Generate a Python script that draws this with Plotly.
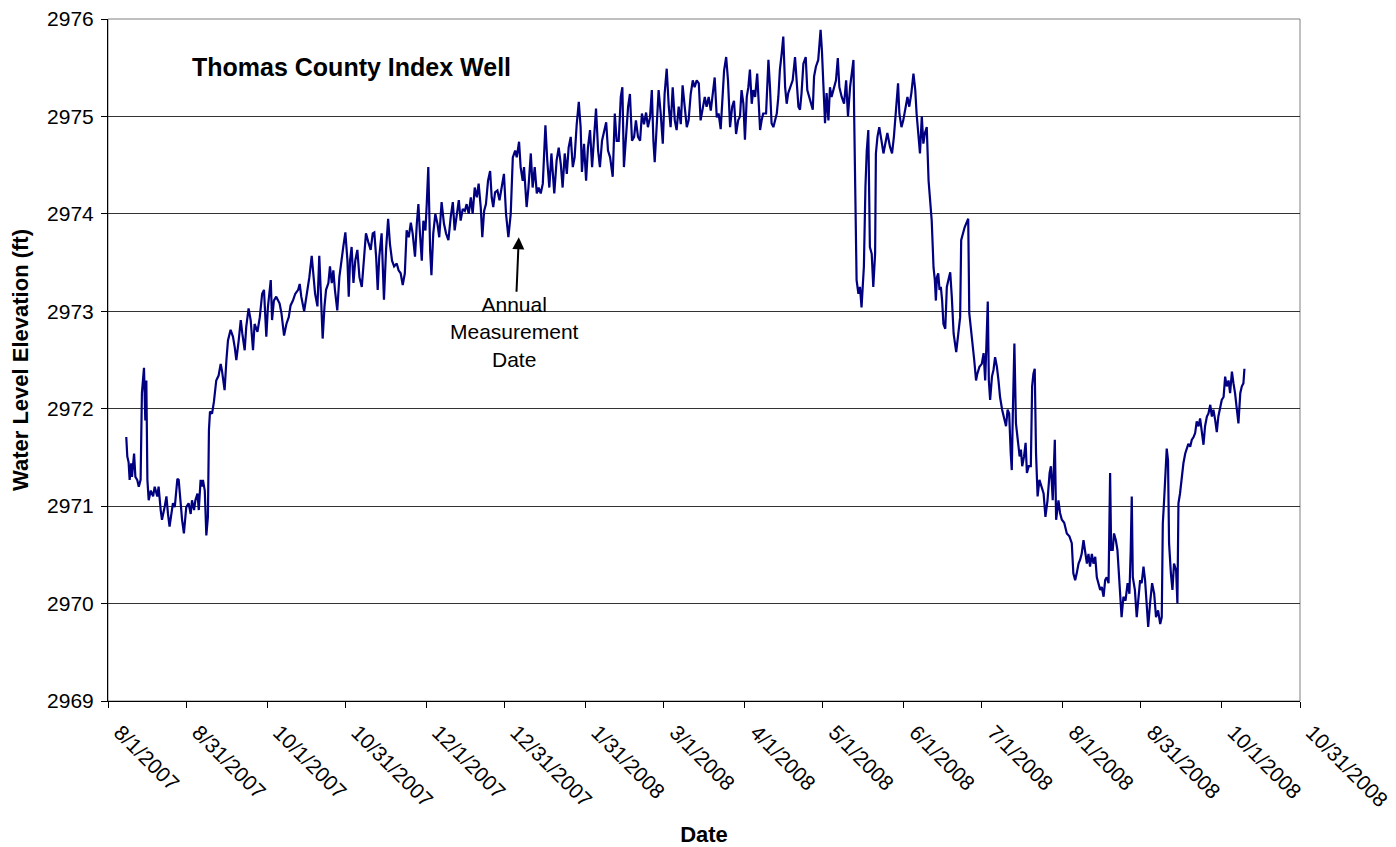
import plotly.graph_objects as go
import pandas as pd

# ---- data ----
# days after 8/1/2007, and water level elevation (ft)
day_offset = [
    7.0, 7.4, 7.9, 8.3, 8.9, 9.2, 10.0, 10.5, 11.2, 11.8, 12.5, 13.0, 13.8, 14.3, 14.7, 15.1,
    15.6, 16.4, 17.3, 17.9, 18.9, 19.4, 20.2, 20.7, 21.7, 22.4, 23.0, 23.6, 24.3, 24.9, 25.6,
    26.6, 27.1, 27.9, 28.4, 29.1, 30.0, 30.9, 31.7, 32.2, 33.0, 33.5, 34.3, 34.8, 35.5, 36.0,
    36.4, 37.1, 37.7, 38.3, 38.7, 39.1, 39.9, 40.6, 41.5, 42.4, 43.2, 43.7, 44.7, 45.4, 46.0,
    47.0, 47.9, 48.6, 49.2, 50.1, 50.9, 51.5, 52.4, 53.0, 53.9, 54.7, 55.6, 56.2, 57.3, 58.2,
    59.1, 59.8, 60.7, 61.3, 62.4, 62.9, 63.6, 64.5, 65.2, 65.8, 66.5, 67.5, 68.4, 69.3, 70.0,
    70.9, 71.8, 72.9, 73.5, 74.1, 75.2, 76.0,
    76.2, 77.2, 78.1, 78.7, 79.4, 80.3, 81.0, 81.7, 82.3, 83.0, 83.6, 84.5, 85.1, 85.8, 86.4,
    87.0, 87.9, 88.7, 89.3, 90.2, 91.0, 91.8, 92.3, 92.8, 93.4, 94.1, 94.8, 95.6, 96.4, 97.3,
    98.2, 98.9, 99.8, 100.7, 101.5, 102.1, 102.8, 103.4, 104.0, 104.9, 105.8, 106.6, 107.4,
    108.1, 108.9, 109.7, 110.7, 111.4, 112.2, 113.0, 113.8, 114.5, 115.3, 116.1, 116.8, 117.7,
    118.4, 119.0, 119.6, 120.3, 120.9, 121.7, 122.2, 122.8, 123.5, 124.0, 124.7, 125.5, 126.3,
    127.0, 127.9, 128.8, 129.6, 130.5, 131.4, 132.2, 132.9, 133.7, 134.5, 135.2, 136.0, 136.8,
    137.5, 138.3, 139.1, 139.8, 140.6, 141.4, 142.1, 142.9, 143.5, 144.2, 144.9, 145.7, 146.5,
    147.1, 147.7, 148.4, 149.3, 150.1,
    151.8, 152.6, 153.5, 154.4, 155.2, 156.1, 156.7, 157.6, 158.2, 159.0, 159.5, 160.5, 161.2,
    162.1, 162.8, 163.6, 164.4, 165.1, 165.9, 166.7, 167.7, 168.4, 169.2, 170.0, 170.5, 171.1,
    172.0, 172.8, 173.6, 174.3, 175.1, 175.9, 176.6, 177.4, 178.2, 178.9, 179.7, 180.5, 181.2,
    181.7, 182.5, 183.3, 184.0, 184.8, 185.6, 186.3, 187.1, 187.9, 188.6, 189.4, 190.2, 191.0,
    191.7, 192.5, 193.5, 194.3, 195.0, 195.8, 196.6, 197.2, 197.8, 198.6, 199.4, 200.1, 200.9,
    201.7, 202.4, 203.2, 204.0, 204.7, 205.5, 206.3, 207.0, 207.8, 208.5, 209.1, 209.6, 210.4,
    211.1, 211.9, 212.7, 213.4, 214.2, 215.0, 215.7, 216.5, 217.3, 218.0, 218.8, 219.6, 220.3,
    221.1, 221.9, 222.6, 223.4, 224.2, 224.9, 225.7, 226.5, 227.2, 228.0, 228.8, 229.5, 230.3,
    231.1, 231.8, 232.6, 233.4, 234.1, 234.9, 235.7, 236.2, 237.0, 237.7, 238.5, 239.3, 240.0,
    240.8, 241.6,
    242.3, 242.9, 243.6, 244.2, 244.9, 245.5, 246.1, 246.8, 247.4, 248.1, 248.9, 249.5, 250.0,
    250.6, 251.2, 252.3, 253.2, 253.8, 254.4, 255.1, 255.7, 256.4, 257.0, 257.6, 258.3, 258.9,
    259.6, 260.2, 260.8, 261.5, 262.5, 263.4, 264.0, 264.7, 265.3, 265.9, 266.6, 267.5, 268.1,
    268.8, 269.4, 270.2, 270.7, 271.4, 272.3, 272.7, 273.2, 273.7, 274.3, 274.9, 275.5, 276.2,
    276.8, 277.4, 278.1, 279.1, 279.8, 280.4, 281.3, 282.2, 283.0, 283.7, 284.5, 285.1, 285.8,
    286.1, 286.5, 287.0, 287.7, 288.3, 288.9, 289.8, 290.4, 290.9, 291.5, 292.1, 292.8, 293.4,
    294.1, 294.4, 295.0, 295.7, 296.5, 297.3, 298.0, 298.8, 299.8, 300.6, 301.3, 301.9, 302.4,
    302.9, 303.4, 304.2, 304.9, 305.7, 306.5, 307.2, 308.0, 308.8, 309.5, 310.0, 310.7, 311.3,
    312.0, 312.6, 313.2, 313.9,
    314.6, 315.2, 315.8, 316.2, 316.5, 317.0, 317.4, 317.8, 318.3, 318.8, 319.3, 319.8, 320.3,
    321.0, 321.6, 322.2, 322.9, 323.5, 324.2, 325.2, 326.1, 326.7, 327.1, 327.7, 328.4, 329.0,
    329.8, 330.2, 330.8, 331.6, 332.1, 332.8, 333.3, 334.1, 335.0, 335.7, 336.3, 336.7, 337.3,
    337.7, 338.2, 338.9, 339.5, 340.1, 340.8, 341.4, 342.0, 342.8, 343.6, 344.3, 344.9, 345.5,
    346.1, 346.5, 346.9, 347.5, 348.1, 348.7, 349.5, 350.0, 350.5, 351.2, 351.8, 352.3, 353.0,
    353.8, 354.3, 354.8, 355.3, 355.8, 356.4, 357.1, 357.9, 358.7, 359.4, 360.2, 361.0, 361.5,
    362.2, 363.0, 363.5, 364.4, 365.0, 365.7, 366.6, 367.6, 368.6,
    369.5, 370.1, 370.8, 371.4, 372.1, 372.7, 373.3, 374.0, 374.6, 375.3, 375.9, 376.5, 377.2,
    377.8, 378.5, 379.1, 379.7, 380.4, 381.0, 381.7, 382.3, 382.9, 383.6, 383.9, 384.2, 384.6,
    385.2, 385.7, 386.4, 387.0, 387.7, 388.0, 388.6, 389.3, 390.1, 390.9, 391.6, 392.1, 392.5,
    392.9, 393.7, 394.4, 395.1, 395.7, 396.3, 397.0, 397.6, 398.3, 398.8, 399.5, 400.3, 401.1,
    401.8, 402.6, 403.4, 404.0, 404.4, 404.9, 405.4, 405.9, 406.4, 406.8, 407.5, 408.1, 408.7,
    409.5, 410.0, 410.4, 411.0, 411.7, 412.3, 413.0, 413.6, 414.2, 414.9, 415.5, 416.2, 416.8,
    417.4, 418.1, 418.7, 419.4, 420.0, 420.6, 421.3, 421.9, 422.6, 423.2, 423.8, 424.5, 425.1,
    425.7, 426.4, 427.0, 427.7, 428.3, 428.9, 429.6, 430.2, 430.9, 431.5, 432.1, 432.8, 433.4,
    434.1, 434.7, 435.3, 435.7,
]

elevation_ft = [
    2971.71, 2971.51, 2971.45, 2971.27, 2971.44, 2971.30, 2971.54, 2971.30, 2971.27, 2971.20,
    2971.27, 2972.16, 2972.42, 2971.88, 2972.29, 2971.27, 2971.06, 2971.16, 2971.10, 2971.20,
    2971.10, 2971.20, 2970.96, 2970.86, 2970.99, 2971.10, 2970.92, 2970.79, 2970.92, 2971.03,
    2970.99, 2971.28, 2971.27, 2970.99, 2970.86, 2970.72, 2970.99, 2971.03, 2970.92, 2971.06,
    2970.96, 2971.06, 2971.13, 2970.96, 2971.27, 2971.20, 2971.27, 2971.16, 2970.70, 2970.89,
    2971.78, 2971.97, 2971.95, 2972.07, 2972.29, 2972.34, 2972.46, 2972.39, 2972.19, 2972.50,
    2972.70, 2972.81, 2972.74, 2972.63, 2972.50, 2972.70, 2972.91, 2972.77, 2972.60, 2972.84,
    2973.03, 2972.91, 2972.60, 2972.87, 2972.79, 2972.94, 2973.18, 2973.22, 2972.74, 2973.04,
    2973.32, 2972.91, 2973.11, 2973.15, 2973.11, 2973.08, 2972.98, 2972.75, 2972.87, 2972.94,
    2973.06, 2973.11, 2973.18, 2973.22, 2973.28, 2973.15, 2973.00, 2973.15,
    2973.15, 2973.35, 2973.57, 2973.42, 2973.18, 2973.05, 2973.57, 2973.12, 2972.72, 2973.05,
    2973.22, 2973.29, 2973.46, 2973.29, 2973.42, 2973.22, 2973.01, 2973.35, 2973.49, 2973.66,
    2973.81, 2973.52, 2973.15, 2973.52, 2973.66, 2973.29, 2973.52, 2973.63, 2973.35, 2973.25,
    2973.56, 2973.80, 2973.71, 2973.63, 2973.80, 2973.81, 2973.56, 2973.22, 2973.56, 2973.80,
    2973.12, 2973.63, 2973.95, 2973.69, 2973.52, 2973.46, 2973.49, 2973.42, 2973.39, 2973.27,
    2973.39, 2973.83, 2973.76, 2973.91, 2973.80, 2973.56, 2973.90, 2974.10, 2973.80, 2973.52,
    2973.93, 2973.83, 2974.10, 2974.48, 2973.63, 2973.37, 2973.80, 2974.00, 2973.90, 2973.76,
    2974.12, 2973.90, 2973.80, 2973.73, 2973.97, 2974.12, 2973.83, 2973.97, 2974.14, 2973.93,
    2974.05, 2974.03, 2974.10, 2974.00, 2974.17, 2974.00, 2974.27, 2974.17, 2974.31, 2974.07,
    2973.76, 2974.03, 2974.10, 2974.34, 2974.44, 2974.17, 2974.07, 2974.22, 2974.24, 2974.14,
    2974.41, 2974.00, 2973.76, 2974.00, 2974.58, 2974.65, 2974.58, 2974.74, 2974.48, 2974.34,
    2974.48, 2974.07, 2974.27, 2974.62, 2974.27, 2974.48, 2974.21, 2974.27, 2974.21, 2974.31,
    2974.91, 2974.55, 2974.27, 2974.62, 2974.41, 2974.21, 2974.55, 2974.68, 2974.51, 2974.27,
    2974.62, 2974.41, 2974.68, 2974.79, 2974.48, 2974.58, 2974.92, 2975.15, 2974.89, 2974.43,
    2974.72, 2974.34, 2974.68, 2974.86, 2974.48, 2974.75, 2975.08, 2974.65, 2974.48, 2974.75,
    2974.86, 2974.94, 2974.65, 2974.58, 2974.38, 2975.03, 2974.75, 2974.75, 2975.20, 2975.30,
    2974.48, 2974.75, 2975.10, 2975.23, 2974.75, 2974.79, 2974.96, 2974.79, 2974.75, 2975.03,
    2974.92, 2975.04, 2974.89, 2974.99, 2975.27, 2974.75, 2974.53, 2974.92, 2975.27, 2975.03,
    2974.72, 2975.23, 2975.49, 2975.10, 2974.89, 2975.30, 2974.96, 2974.86, 2975.10, 2974.92,
    2975.32, 2975.10, 2974.89, 2974.96, 2975.23, 2975.37, 2975.30, 2975.37, 2975.34, 2974.96,
    2975.10, 2975.20, 2975.10, 2975.20, 2975.06, 2975.20, 2975.40, 2974.99, 2975.03, 2974.87,
    2975.27, 2975.47, 2975.61, 2975.37, 2974.89, 2975.10, 2975.16, 2974.82, 2974.96,
    2975.00, 2975.27, 2975.13, 2974.76, 2975.20, 2975.30, 2975.48, 2975.13, 2975.27, 2975.20,
    2975.44, 2975.13, 2974.86, 2974.96, 2975.03, 2975.03, 2975.58, 2975.30, 2974.93, 2974.89,
    2974.96, 2975.03, 2975.20, 2975.48, 2975.65, 2975.82, 2975.30, 2975.13, 2975.24, 2975.30,
    2975.37, 2975.61, 2975.37, 2975.10, 2975.07, 2975.24, 2975.54, 2975.61, 2975.27, 2975.20,
    2975.17, 2975.07, 2975.41, 2975.51, 2975.58, 2975.72, 2975.89, 2975.68, 2975.30, 2974.93,
    2975.24, 2974.96, 2975.30, 2975.20, 2975.27, 2975.37, 2975.60, 2975.30, 2975.20, 2975.13,
    2975.37, 2975.00, 2975.30, 2975.44, 2975.58, 2974.96, 2973.93, 2973.32, 2973.18, 2973.25,
    2973.04, 2973.46, 2974.28, 2974.65, 2974.86, 2973.66, 2973.59, 2973.25, 2973.59, 2974.62,
    2974.79, 2974.89, 2974.76, 2974.62, 2974.72, 2974.83, 2974.69, 2974.62, 2974.79, 2975.03,
    2975.20, 2975.34, 2975.03, 2974.89, 2974.96, 2975.10, 2975.20, 2975.10, 2975.24, 2975.44,
    2975.27, 2975.03, 2974.83, 2974.62, 2975.00, 2974.72, 2974.83, 2974.89,
    2974.34, 2974.14, 2973.93, 2973.66, 2973.45, 2973.32, 2973.11, 2973.35, 2973.39, 2973.22,
    2973.25, 2973.11, 2972.87, 2972.82, 2973.25, 2973.32, 2973.40, 2973.15, 2972.77, 2972.58,
    2972.77, 2972.94, 2973.73, 2973.80, 2973.86, 2973.90, 2973.95, 2972.98, 2972.84, 2972.67,
    2972.50, 2972.29, 2972.36, 2972.43, 2972.46, 2972.57, 2972.29, 2972.60, 2973.10, 2972.29,
    2972.09, 2972.33, 2972.40, 2972.53, 2972.43, 2972.29, 2972.12, 2971.99, 2971.88, 2971.82,
    2971.99, 2971.95, 2971.54, 2971.37, 2971.95, 2972.67, 2971.85, 2971.71, 2971.51, 2971.58,
    2971.41, 2971.51, 2971.65, 2971.34, 2971.41, 2971.41, 2972.23, 2972.36, 2972.41, 2971.54,
    2971.10, 2971.27, 2971.20, 2971.13, 2970.89, 2971.06, 2971.34, 2971.41, 2971.06, 2971.68,
    2970.86, 2971.06, 2970.93, 2970.86, 2970.83, 2970.72, 2970.69,
    2970.62, 2970.31, 2970.24, 2970.31, 2970.41, 2970.45, 2970.51, 2970.65, 2970.55, 2970.41,
    2970.51, 2970.38, 2970.51, 2970.41, 2970.48, 2970.27, 2970.21, 2970.14, 2970.17, 2970.07,
    2970.24, 2970.27, 2970.21, 2970.89, 2971.34, 2970.55, 2970.55, 2970.72, 2970.65, 2970.55,
    2970.27, 2970.07, 2969.86, 2970.07, 2970.03, 2970.21, 2970.10, 2970.55, 2971.10, 2970.27,
    2970.14, 2969.86, 2970.10, 2970.24, 2970.21, 2970.38, 2970.24, 2970.00, 2969.76, 2970.00,
    2970.21, 2970.10, 2969.86, 2969.93, 2969.79, 2969.86, 2970.82, 2971.06, 2971.30, 2971.59,
    2971.47, 2970.62, 2970.31, 2970.14, 2970.41, 2970.34, 2970.00, 2971.03, 2971.13, 2971.34,
    2971.44, 2971.54, 2971.58, 2971.64, 2971.61, 2971.68, 2971.71, 2971.75, 2971.87, 2971.82,
    2971.90, 2971.75, 2971.63, 2971.82, 2971.92, 2971.95, 2972.04, 2971.92, 2971.99, 2971.88,
    2971.76, 2971.92, 2972.00, 2972.09, 2972.12, 2972.33, 2972.23, 2972.29, 2972.16, 2972.38,
    2972.26, 2972.16, 2971.99, 2971.85, 2972.16, 2972.23, 2972.26, 2972.41,
]

tick_dates = [
    "2007-08-01", "2007-08-31", "2007-10-01", "2007-10-31", "2007-12-01", "2007-12-31",
    "2008-01-31", "2008-03-01", "2008-04-01", "2008-05-01", "2008-06-01", "2008-07-01",
    "2008-08-01", "2008-08-31", "2008-10-01", "2008-10-31",
]
tick_labels = [
    "8/1/2007", "8/31/2007", "10/1/2007", "10/31/2007", "12/1/2007", "12/31/2007",
    "1/31/2008", "3/1/2008", "4/1/2008", "5/1/2008", "6/1/2008", "7/1/2008",
    "8/1/2008", "8/31/2008", "10/1/2008", "10/31/2008",
]
y_ticks = [2969, 2970, 2971, 2972, 2973, 2974, 2975, 2976]

chart_title = "Thomas County Index Well"
annual_date = "2008-01-05 12:00"
annual_level = 2973.76

start_date = pd.Timestamp("2007-08-01")
dates = start_date + pd.to_timedelta(day_offset, unit="D")

FONT = "Arial, 'Liberation Sans', sans-serif"

fig = go.Figure()
fig.add_trace(go.Scatter(
    x=dates, y=elevation_ft, mode="lines",
    line=dict(color="#000080", width=2.2),
    showlegend=False, hoverinfo="x+y",
))

fig.update_layout(
    width=1388, height=839,
    margin=dict(l=100, r=96, t=11, b=146, autoexpand=False),
    paper_bgcolor="white", plot_bgcolor="white",
    font=dict(family=FONT, size=21, color="black"),
    showlegend=False,
)

fig.update_xaxes(
    type="date", range=["2007-08-01", "2008-10-31"],
    tickmode="array", tickvals=tick_dates, ticktext=tick_labels,
    tickangle=45, ticks="outside", ticklen=6, tickwidth=1, tickcolor="black",
    ticklabelshift=12, ticklabelstandoff=4, ticklabeloverflow="allow",
    showline=True, linecolor="black", linewidth=1,
    showgrid=False, zeroline=False, automargin=False,
    tickfont=dict(family=FONT, size=21, color="black"),
    title=dict(text="<b>Date</b>", font=dict(family=FONT, size=22, color="black"), standoff=22),
)
fig.update_yaxes(
    range=[2969, 2976], tickmode="array", tickvals=y_ticks,
    ticks="outside", ticklen=6, tickwidth=1, tickcolor="black",
    ticklabelstandoff=3, ticklabeloverflow="allow",
    showline=True, linecolor="black", linewidth=1,
    showgrid=True, gridcolor="#333333", gridwidth=1, zeroline=False, automargin=False,
    tickfont=dict(family=FONT, size=21, color="black"),
    title=dict(text="<b>Water Level Elevation (ft)</b>", font=dict(family=FONT, size=22, color="black"), standoff=12),
)

# plot-area frame
fig.add_shape(type="rect", xref="paper", yref="paper", x0=0, x1=1, y0=0, y1=1,
              line=dict(color="#808080", width=1), layer="below")

fig.add_annotation(
    text="<b>" + chart_title + "</b>", xref="paper", yref="paper",
    x=0.0688, y=0.9296, xanchor="left", yanchor="middle", showarrow=False,
    font=dict(family=FONT, size=25, color="black"),
)

fig.add_annotation(
    text="Annual<br>Measurement<br>Date", x=annual_date, y=annual_level,
    xref="x", yref="y", showarrow=True, ax=-4, ay=95, axref="pixel", ayref="pixel",
    arrowhead=2, arrowsize=1.2, arrowwidth=2, arrowcolor="black",
    font=dict(family=FONT, size=21, color="black"), align="center",
)

fig.write_html("out.html")
